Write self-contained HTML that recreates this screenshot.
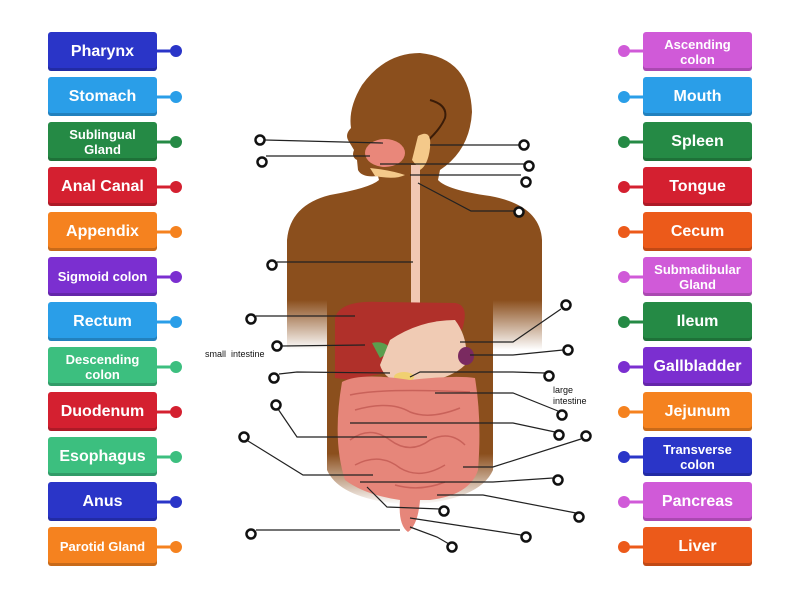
<!DOCTYPE html>
<html><head><meta charset="utf-8"><style>
body{margin:0;width:800px;height:600px;background:#fff;position:relative;overflow:hidden;font-family:"Liberation Sans",sans-serif}
.b{position:absolute;width:109px;height:39px;border-radius:3px;color:#fff;font-weight:bold;display:flex;align-items:center;justify-content:center;text-align:center;font-size:16px;line-height:16px;box-shadow:inset 0 -3px 0 rgba(0,0,0,.18)}
.s{font-size:13px;line-height:15px}
svg{position:absolute;left:0;top:0}
</style></head><body>
<svg width="800" height="600">
<defs>
<linearGradient id="fade" x1="0" y1="0" x2="0" y2="1"><stop offset="0.75" stop-color="#8b4f1d"/><stop offset="1" stop-color="#8b4f1d" stop-opacity="0"/></linearGradient>
<linearGradient id="arm" x1="0" y1="0" x2="0" y2="1"><stop offset="0" stop-color="#8b4f1d"/><stop offset="1" stop-color="#fff" stop-opacity="1"/></linearGradient>
</defs>
<!-- body -->
<path d="M287,330 L287,240 Q290,205 330,195 Q370,188 379,180 L378,176 Q362,178 358,170 L357,160 Q351,157 354,150 L348,140 Q345,134 351,128 Q348,108 362,85 Q385,53 420,53 Q470,58 472,112 Q470,150 440,170 L438,180 Q447,190 490,196 Q540,205 542,240 L542,330 Z" fill="#8b4f1d"/>
<rect x="287" y="300" width="40" height="50" fill="url(#arm)"/>
<rect x="493" y="300" width="49" height="50" fill="url(#arm)"/>
<path d="M327,300 L493,300 L493,470 Q480,500 410,505 Q340,500 327,470 Z" fill="url(#fade)"/>
<path d="M425,143 Q440,130 445,118 Q448,105 430,100" stroke="#3a1c08" stroke-width="2" fill="none"/>
<!-- organs -->
<ellipse cx="385" cy="153" rx="20" ry="14" fill="#e9877a"/>
<path d="M418,136 Q432,128 430,148 Q428,165 420,170 L412,160 Z" fill="#f4c98a"/>
<path d="M370,168 Q390,170 405,175 Q395,180 375,176 Z" fill="#f4c98a"/>
<rect x="411" y="165" width="9" height="140" fill="#f2c7b3"/>
<path d="M335,318 Q340,300 380,302 L455,303 Q470,305 462,330 L400,370 L350,380 L335,378 Z" fill="#b0302a"/>
<path d="M372,343 Q385,340 392,350 L380,358 Z" fill="#5a9e4e"/>
<path d="M390,340 Q420,320 455,320 Q470,340 465,365 Q450,380 410,385 Q385,382 380,365 Z" fill="#f0cbb4"/>
<ellipse cx="466" cy="356" rx="8" ry="9" fill="#7a2a60"/>
<ellipse cx="404" cy="377" rx="10" ry="5" fill="#f0d070"/>
<path d="M342,382 Q360,372 410,380 Q455,375 475,378 Q482,420 478,470 Q470,495 430,500 L420,500 Q418,525 408,532 Q398,525 400,500 Q365,495 345,480 Q332,440 342,382 Z" fill="#e6867a"/>
<g stroke="#c9625a" stroke-width="1.5" fill="none">
<path d="M350,395 Q380,388 470,392"/><path d="M355,410 Q390,400 410,412 Q430,420 460,408"/><path d="M350,440 Q370,425 390,440 Q410,455 430,440 Q450,430 465,445"/><path d="M355,465 Q380,452 400,468 Q420,480 445,465"/><path d="M395,485 Q420,492 445,482"/>
</g>
<!-- leader lines -->
<g stroke="#222" stroke-width="1.2" fill="none">
<polyline points="265,140 383,143"/><polyline points="266,156 370,156"/>
<polyline points="430,145 519,145"/><polyline points="380,164 524,164"/><polyline points="410,175 521,175"/>
<polyline points="418,183 471,211 514,211"/><polyline points="277,262 413,262"/><polyline points="256,316 355,316"/>
<polyline points="282,346 365,345"/><polyline points="279,374 297,372 390,373"/>
<polyline points="460,342 513,342 561,309"/><polyline points="470,355 513,355 563,350"/>
<polyline points="410,377 420,372 513,372 545,373"/><polyline points="435,393 513,393 558,411"/>
<polyline points="350,423 513,423 555,432"/><polyline points="278,409 297,437 427,437"/>
<polyline points="463,467 493,467 581,439"/><polyline points="248,441 303,475 373,475"/>
<polyline points="360,482 493,482 553,478"/><polyline points="437,495 483,495 576,513"/>
<polyline points="367,487 387,507 440,509"/><polyline points="410,518 521,535"/>
<polyline points="256,530 400,530"/><polyline points="410,527 437,537 449,544"/>
</g>
<g stroke="#111" stroke-width="2.5" fill="#fff">
<circle cx="260" cy="140" r="4.5"/><circle cx="262" cy="162" r="4.5"/><circle cx="524" cy="145" r="4.5"/><circle cx="529" cy="166" r="4.5"/><circle cx="526" cy="182" r="4.5"/><circle cx="519" cy="212" r="4.5"/><circle cx="272" cy="265" r="4.5"/><circle cx="251" cy="319" r="4.5"/><circle cx="566" cy="305" r="4.5"/><circle cx="277" cy="346" r="4.5"/><circle cx="568" cy="350" r="4.5"/><circle cx="274" cy="378" r="4.5"/><circle cx="549" cy="376" r="4.5"/><circle cx="276" cy="405" r="4.5"/><circle cx="562" cy="415" r="4.5"/><circle cx="244" cy="437" r="4.5"/><circle cx="559" cy="435" r="4.5"/><circle cx="586" cy="436" r="4.5"/><circle cx="558" cy="480" r="4.5"/><circle cx="579" cy="517" r="4.5"/><circle cx="444" cy="511" r="4.5"/><circle cx="251" cy="534" r="4.5"/><circle cx="526" cy="537" r="4.5"/><circle cx="452" cy="547" r="4.5"/>
</g>
<text x="205" y="357" font-size="9" font-family="Liberation Sans" fill="#111">small&#160;&#160;intestine</text>
<text x="553" y="393" font-size="9" font-family="Liberation Sans" fill="#111">large</text>
<text x="553" y="404" font-size="9" font-family="Liberation Sans" fill="#111">intestine</text>
<!-- connectors -->
<g stroke-width="3">
<line x1="157" y1="51" x2="176" y2="51" stroke="#2a35c8"/><circle cx="176" cy="51" r="6" fill="#2a35c8"/>
<line x1="157" y1="97" x2="176" y2="97" stroke="#2a9ee8"/><circle cx="176" cy="97" r="6" fill="#2a9ee8"/>
<line x1="157" y1="142" x2="176" y2="142" stroke="#258a45"/><circle cx="176" cy="142" r="6" fill="#258a45"/>
<line x1="157" y1="187" x2="176" y2="187" stroke="#d42030"/><circle cx="176" cy="187" r="6" fill="#d42030"/>
<line x1="157" y1="232" x2="176" y2="232" stroke="#f5821f"/><circle cx="176" cy="232" r="6" fill="#f5821f"/>
<line x1="157" y1="277" x2="176" y2="277" stroke="#7b2fd0"/><circle cx="176" cy="277" r="6" fill="#7b2fd0"/>
<line x1="157" y1="322" x2="176" y2="322" stroke="#2a9ee8"/><circle cx="176" cy="322" r="6" fill="#2a9ee8"/>
<line x1="157" y1="367" x2="176" y2="367" stroke="#3cbf7f"/><circle cx="176" cy="367" r="6" fill="#3cbf7f"/>
<line x1="157" y1="412" x2="176" y2="412" stroke="#d42030"/><circle cx="176" cy="412" r="6" fill="#d42030"/>
<line x1="157" y1="457" x2="176" y2="457" stroke="#3cbf7f"/><circle cx="176" cy="457" r="6" fill="#3cbf7f"/>
<line x1="157" y1="502" x2="176" y2="502" stroke="#2a35c8"/><circle cx="176" cy="502" r="6" fill="#2a35c8"/>
<line x1="157" y1="547" x2="176" y2="547" stroke="#f5821f"/><circle cx="176" cy="547" r="6" fill="#f5821f"/>
<line x1="624" y1="51" x2="643" y2="51" stroke="#d05ad8"/><circle cx="624" cy="51" r="6" fill="#d05ad8"/>
<line x1="624" y1="97" x2="643" y2="97" stroke="#2a9ee8"/><circle cx="624" cy="97" r="6" fill="#2a9ee8"/>
<line x1="624" y1="142" x2="643" y2="142" stroke="#258a45"/><circle cx="624" cy="142" r="6" fill="#258a45"/>
<line x1="624" y1="187" x2="643" y2="187" stroke="#d42030"/><circle cx="624" cy="187" r="6" fill="#d42030"/>
<line x1="624" y1="232" x2="643" y2="232" stroke="#ec5a1a"/><circle cx="624" cy="232" r="6" fill="#ec5a1a"/>
<line x1="624" y1="277" x2="643" y2="277" stroke="#d05ad8"/><circle cx="624" cy="277" r="6" fill="#d05ad8"/>
<line x1="624" y1="322" x2="643" y2="322" stroke="#258a45"/><circle cx="624" cy="322" r="6" fill="#258a45"/>
<line x1="624" y1="367" x2="643" y2="367" stroke="#7b2fd0"/><circle cx="624" cy="367" r="6" fill="#7b2fd0"/>
<line x1="624" y1="412" x2="643" y2="412" stroke="#f5821f"/><circle cx="624" cy="412" r="6" fill="#f5821f"/>
<line x1="624" y1="457" x2="643" y2="457" stroke="#2a35c8"/><circle cx="624" cy="457" r="6" fill="#2a35c8"/>
<line x1="624" y1="502" x2="643" y2="502" stroke="#d05ad8"/><circle cx="624" cy="502" r="6" fill="#d05ad8"/>
<line x1="624" y1="547" x2="643" y2="547" stroke="#ec5a1a"/><circle cx="624" cy="547" r="6" fill="#ec5a1a"/>
</g>
</svg>
<div class="b" style="left:48px;top:32px;background:#2a35c8">Pharynx</div>
<div class="b" style="left:48px;top:77px;background:#2a9ee8">Stomach</div>
<div class="b s" style="left:48px;top:122px;background:#258a45">Sublingual<br>Gland</div>
<div class="b" style="left:48px;top:167px;background:#d42030">Anal Canal</div>
<div class="b" style="left:48px;top:212px;background:#f5821f">Appendix</div>
<div class="b s" style="left:48px;top:257px;background:#7b2fd0">Sigmoid colon</div>
<div class="b" style="left:48px;top:302px;background:#2a9ee8">Rectum</div>
<div class="b s" style="left:48px;top:347px;background:#3cbf7f">Descending<br>colon</div>
<div class="b" style="left:48px;top:392px;background:#d42030">Duodenum</div>
<div class="b" style="left:48px;top:437px;background:#3cbf7f">Esophagus</div>
<div class="b" style="left:48px;top:482px;background:#2a35c8">Anus</div>
<div class="b s" style="left:48px;top:527px;background:#f5821f">Parotid Gland</div>
<div class="b s" style="left:643px;top:32px;background:#d05ad8">Ascending<br>colon</div>
<div class="b" style="left:643px;top:77px;background:#2a9ee8">Mouth</div>
<div class="b" style="left:643px;top:122px;background:#258a45">Spleen</div>
<div class="b" style="left:643px;top:167px;background:#d42030">Tongue</div>
<div class="b" style="left:643px;top:212px;background:#ec5a1a">Cecum</div>
<div class="b s" style="left:643px;top:257px;background:#d05ad8">Submadibular<br>Gland</div>
<div class="b" style="left:643px;top:302px;background:#258a45">Ileum</div>
<div class="b" style="left:643px;top:347px;background:#7b2fd0">Gallbladder</div>
<div class="b" style="left:643px;top:392px;background:#f5821f">Jejunum</div>
<div class="b s" style="left:643px;top:437px;background:#2a35c8">Transverse<br>colon</div>
<div class="b" style="left:643px;top:482px;background:#d05ad8">Pancreas</div>
<div class="b" style="left:643px;top:527px;background:#ec5a1a">Liver</div>
</body></html>
